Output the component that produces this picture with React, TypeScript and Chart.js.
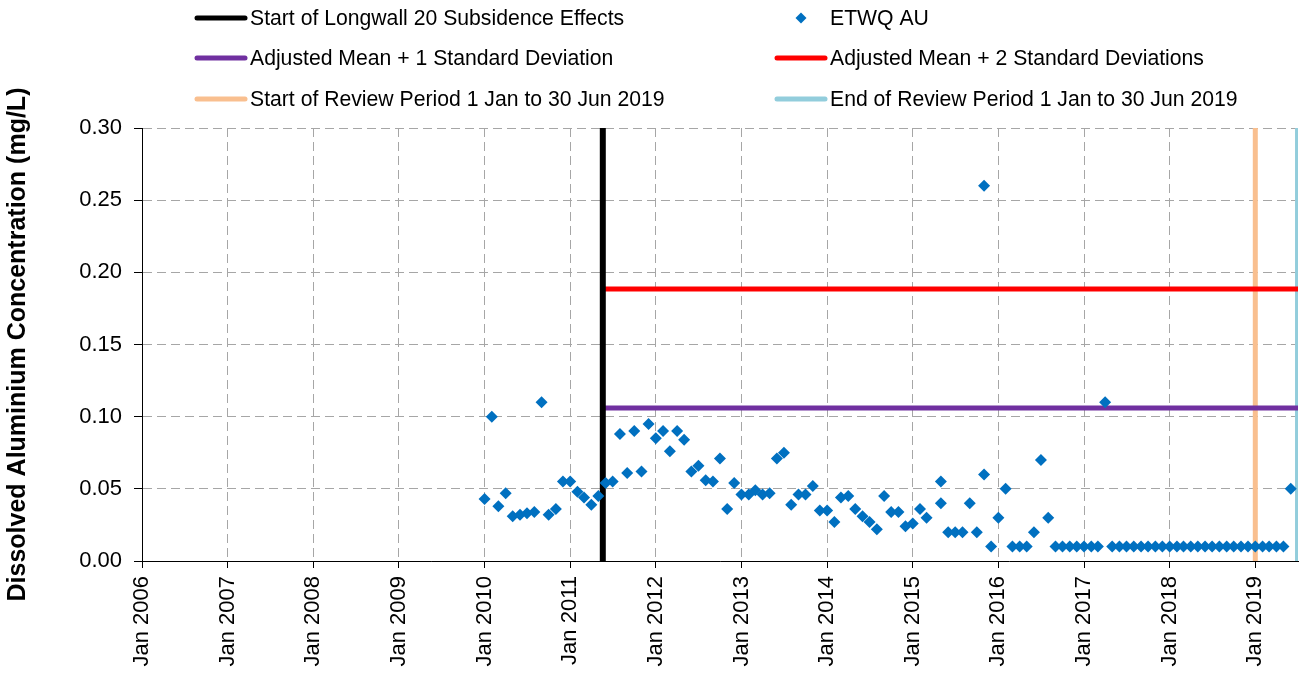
import React, { useEffect, useRef } from "react";
import { Chart, registerables } from "chart.js";

Chart.register(...registerables);

// ---- data ----
const sampleDates: string[] = [
  "2010-01", "2010-02", "2010-03", "2010-04", "2010-05", "2010-06", "2010-07", "2010-08", "2010-09", "2010-10", "2010-11", "2010-12",
  "2011-01", "2011-02", "2011-03", "2011-04", "2011-05", "2011-06", "2011-07", "2011-08", "2011-09", "2011-10", "2011-11", "2011-12",
  "2012-01", "2012-02", "2012-03", "2012-04", "2012-05", "2012-06", "2012-07", "2012-08", "2012-09", "2012-10", "2012-11", "2012-12",
  "2013-01", "2013-02", "2013-03", "2013-04", "2013-05", "2013-06", "2013-07", "2013-08", "2013-09", "2013-10", "2013-11", "2013-12",
  "2014-01", "2014-02", "2014-03", "2014-04", "2014-05", "2014-06", "2014-07", "2014-08", "2014-09", "2014-10", "2014-11", "2014-12",
  "2015-01", "2015-02", "2015-03", "2015-05", "2015-05", "2015-06", "2015-07", "2015-08", "2015-09", "2015-10", "2015-11", "2015-11", "2015-12",
  "2016-01", "2016-02", "2016-03", "2016-04", "2016-05", "2016-06", "2016-07", "2016-08", "2016-09", "2016-10", "2016-11", "2016-12",
  "2017-01", "2017-02", "2017-03", "2017-04", "2017-05", "2017-06", "2017-07", "2017-08", "2017-09", "2017-10", "2017-11", "2017-12",
  "2018-01", "2018-02", "2018-03", "2018-04", "2018-05", "2018-06", "2018-07", "2018-08", "2018-09", "2018-10", "2018-11", "2018-12",
  "2019-01", "2019-02", "2019-03", "2019-04", "2019-05", "2019-06",
];

const aluminium: number[] = [
  0.043, 0.100, 0.038, 0.047, 0.031, 0.032, 0.033, 0.034, 0.110, 0.032, 0.036, 0.055,
  0.055, 0.048, 0.044, 0.039, 0.045, 0.054, 0.055, 0.088, 0.061, 0.090, 0.062, 0.095,
  0.085, 0.090, 0.076, 0.090, 0.084, 0.062, 0.066, 0.056, 0.055, 0.071, 0.036, 0.054,
  0.046, 0.046, 0.049, 0.046, 0.047, 0.071, 0.075, 0.039, 0.046, 0.046, 0.052, 0.035,
  0.035, 0.027, 0.044, 0.045, 0.036, 0.031, 0.027, 0.022, 0.045, 0.034, 0.034, 0.024,
  0.026, 0.036, 0.030, 0.055, 0.040, 0.020, 0.020, 0.020, 0.040, 0.020, 0.060, 0.260, 0.010,
  0.030, 0.050, 0.010, 0.010, 0.010, 0.020, 0.070, 0.030, 0.010, 0.010, 0.010, 0.010,
  0.010, 0.010, 0.010, 0.110, 0.010, 0.010, 0.010, 0.010, 0.010, 0.010, 0.010, 0.010,
  0.010, 0.010, 0.010, 0.010, 0.010, 0.010, 0.010, 0.010, 0.010, 0.010, 0.010, 0.010,
  0.010, 0.010, 0.010, 0.010, 0.010, 0.050,
];

const xTickYears: number[] = [2006, 2007, 2008, 2009, 2010, 2011, 2012, 2013, 2014, 2015, 2016, 2017, 2018, 2019];
const yTicks: number[] = [0, 0.05, 0.1, 0.15, 0.2, 0.25, 0.3];

const longwallStart = "2011-05-20";
const reviewStart = "2019-01-01";
const reviewEnd = "2019-06-30";
const axisStart = "2006-01-01";
const axisEnd = "2019-07-02";
const meanPlus1SD = 0.106;
const meanPlus2SD = 0.1885;

const legendLabels: string[] = [
  "Start of Longwall 20 Subsidence Effects",
  "ETWQ AU",
  "Adjusted Mean + 1 Standard Deviation",
  "Adjusted Mean + 2 Standard Deviations",
  "Start of Review Period 1 Jan to 30 Jun 2019",
  "End of Review Period 1 Jan to 30 Jun 2019",
];

// ---- helpers ----
function toYear(d: string): number {
  const parts = d.split("-").map(Number);
  const y = parts[0];
  const m = (parts[1] || 1) - 1;
  const day = parts[2] || 1;
  const start = Date.UTC(y, 0, 1);
  const end = Date.UTC(y + 1, 0, 1);
  return y + (Date.UTC(y, m, day) - start) / (end - start);
}

const FONT = "'Liberation Sans', Arial, sans-serif";

const legendPlugin = {
  id: "gridLegend",
  afterDraw(chart: any) {
    const ctx = chart.ctx;
    const colX = [195, 775];
    const rowY = [18, 58, 99];
    ctx.save();
    ctx.font = `21.2px ${FONT}`;
    ctx.textBaseline = "middle";
    ctx.fillStyle = "#000";
    chart.data.datasets.forEach((ds: any, i: number) => {
      const x = colX[i % 2];
      const y = rowY[Math.floor(i / 2)];
      if (ds.showLine) {
        ctx.beginPath();
        ctx.strokeStyle = ds.borderColor;
        ctx.lineWidth = 5;
        ctx.lineCap = "round";
        ctx.moveTo(x + 2, y);
        ctx.lineTo(x + 50, y);
        ctx.stroke();
      } else {
        const cx = x + 26;
        const r = 5.5;
        ctx.beginPath();
        ctx.fillStyle = ds.backgroundColor;
        ctx.moveTo(cx - r, y);
        ctx.lineTo(cx, y - r);
        ctx.lineTo(cx + r, y);
        ctx.lineTo(cx, y + r);
        ctx.closePath();
        ctx.fill();
      }
      ctx.fillStyle = "#000";
      ctx.fillText(ds.label, x + 55, y + 1);
    });
    ctx.restore();
  },
};

export default function App() {
  const canvasRef = useRef<HTMLCanvasElement | null>(null);

  useEffect(() => {
    document.body.style.margin = "0";
    const canvas = canvasRef.current;
    if (!canvas) return;

    const lw = toYear(longwallStart);
    const rs = toYear(reviewStart);
    const re = toYear(reviewEnd);
    const xMin = toYear(axisStart);
    const xMax = toYear(axisEnd);
    const yMin = yTicks[0];
    const yMax = yTicks[yTicks.length - 1];

    const points = sampleDates.map((d, i) => ({ x: toYear(d), y: aluminium[i] }));

    const lineDs = (label: string, color: string, width: number, data: any[]) => ({
      label,
      data,
      showLine: true,
      borderColor: color,
      backgroundColor: color,
      borderWidth: width,
      pointRadius: 0,
      pointHoverRadius: 0,
      order: 1,
    });

    const chart = new Chart(canvas, {
      type: "scatter",
      data: {
        datasets: [
          lineDs(legendLabels[0], "#000000", 6, [{ x: lw, y: yMin }, { x: lw, y: yMax }]),
          {
            label: legendLabels[1],
            data: points,
            showLine: false,
            pointStyle: "rectRot",
            pointRadius: 6,
            pointBorderWidth: 0,
            borderWidth: 0,
            backgroundColor: "#0070C0",
            borderColor: "#0070C0",
            order: 0,
          } as any,
          lineDs(legendLabels[2], "#7030A0", 5, [{ x: lw, y: meanPlus1SD }, { x: xMax, y: meanPlus1SD }]),
          lineDs(legendLabels[3], "#FF0000", 5, [{ x: lw, y: meanPlus2SD }, { x: xMax, y: meanPlus2SD }]),
          lineDs(legendLabels[4], "#F9BF8F", 5, [{ x: rs, y: yMin }, { x: rs, y: yMax }]),
          lineDs(legendLabels[5], "#92CDDC", 5, [{ x: re, y: yMin }, { x: re, y: yMax }]),
        ],
      },
      options: {
        animation: false,
        responsive: false,
        maintainAspectRatio: false,
        events: [],
        layout: { padding: { top: 128, right: 3, left: 0, bottom: 0 } },
        plugins: {
          legend: { display: false },
          tooltip: { enabled: false },
        },
        scales: {
          x: {
            type: "linear",
            min: xMin,
            max: xMax,
            afterBuildTicks: (scale: any) => {
              scale.ticks = xTickYears.map((v) => ({ value: v }));
            },
            afterFit: (scale: any) => {
              scale.height = 116;
            },
            ticks: {
              autoSkip: false,
              maxRotation: 90,
              minRotation: 90,
              padding: 8,
              color: "#000",
              font: { family: FONT, size: 22 },
              callback: (v: any) => "Jan " + Math.round(Number(v)),
            },
            grid: {
              color: "#A6A6A6",
              lineWidth: 1,
              tickLength: 7,
              tickColor: "#000",
              tickBorderDash: [],
            } as any,
            border: { display: true, color: "#000", width: 1, dash: [9, 5] },
          },
          y: {
            type: "linear",
            min: yMin,
            max: yMax,
            afterBuildTicks: (scale: any) => {
              scale.ticks = yTicks.map((v) => ({ value: v }));
            },
            afterFit: (scale: any) => {
              scale.width = 142;
            },
            ticks: {
              padding: 12,
              color: "#000",
              font: { family: FONT, size: 22 },
              callback: (v: any) => Number(v).toFixed(2),
            },
            grid: {
              color: "#A6A6A6",
              lineWidth: 1,
              tickLength: 8,
              tickColor: "#000",
              tickBorderDash: [],
            } as any,
            border: { display: true, color: "#000", width: 1, dash: [9, 5] },
            title: {
              display: true,
              text: "Dissolved Aluminium Concentration (mg/L)",
              color: "#000",
              font: { family: FONT, size: 25, weight: "bold" },
              padding: { top: 3, bottom: 4 },
            },
          },
        },
      },
      plugins: [legendPlugin],
    });

    return () => chart.destroy();
  }, []);

  return (
    <div style={{ position: "absolute", left: 0, top: 0, width: 1304, height: 677 }}>
      <canvas ref={canvasRef} width={1304} height={677} style={{ width: 1304, height: 677 }} />
    </div>
  );
}
